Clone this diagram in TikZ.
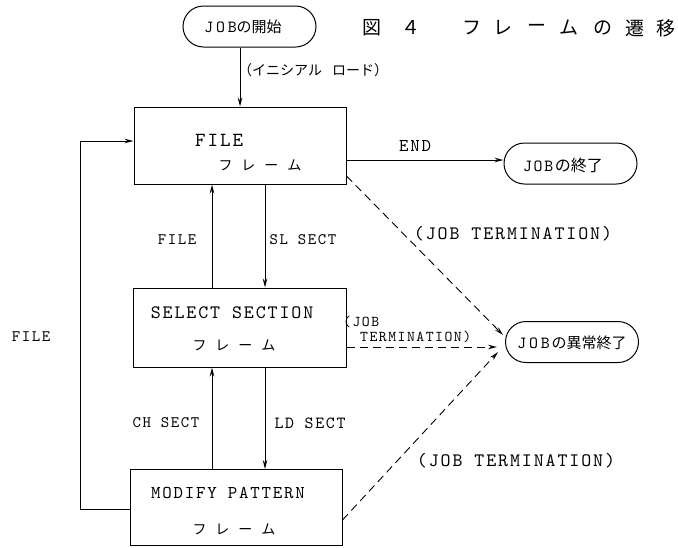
\documentclass[tikz,border=0pt]{standalone}
\usepackage{fontspec}
\newfontfamily\tw[LetterSpace=10]{lmmono10-regular.otf}
\newfontfamily\jp{Noto Sans CJK JP}
\usetikzlibrary{arrows.meta,shapes.misc}
\newcommand\myfs[1]{\fontsize{#1}{#1}\selectfont}
\tikzset{
  framebox/.style={draw, line width=1pt, inner sep=0pt},
  termbox/.style={draw, rounded rectangle, line width=1pt, inner sep=0pt},
  arr/.style={-{Stealth[open,length=9pt,width=4.5pt]}, line width=0.9pt},
  dsh/.style={arr, dash pattern=on 8pt off 5pt},
  lbl/.style={inner sep=0pt, font=\tw\myfs{19}},
  kana/.style={inner sep=0pt, font=\jp\myfs{14}},
}
\begin{document}
\begin{tikzpicture}[x=1pt,y=-1pt]
\useasboundingbox (0,0) rectangle (678,547);

% boxes
\node[termbox, minimum width=133pt, minimum height=41pt] (start) at (249.5,26.5) {};
\node[framebox, minimum width=212pt, minimum height=77pt] (file) at (240,145.5) {};
\node[framebox, minimum width=213pt, minimum height=79pt] (sel) at (239.5,327.5) {};
\node[framebox, minimum width=212pt, minimum height=76pt] (mod) at (236,507.5) {};
\node[termbox, minimum width=133pt, minimum height=41pt] (endb) at (570.5,163.5) {};
\node[termbox, minimum width=133pt, minimum height=41pt] (abort) at (572,342) {};

% texts in terminal boxes
\node[inner sep=0pt] (starttxt) at (243,27) {{\tw\myfs{17}J\,O\,B}{\jp\myfs{15}の開始}};
\node[inner sep=0pt] (endtxt) at (563,165) {{\tw\myfs{17}JOB}\,{\jp\myfs{16}の終了}};
\node[inner sep=0pt] (aborttxt) at (572,343) {{\tw\myfs{17}J\,O\,B}\,{\jp\myfs{15}の異常終了}};

% texts in frames
\node[lbl, font=\tw\myfs{20}] (filet) at (219,140) {FILE};
\node[kana] (filek) at (260,165) {フ\hspace{9pt}レ\hspace{9pt}ー\hspace{9pt}ム};
\node[lbl, font=\tw\myfs{19}] (selt) at (232,313) {SELECT SECTION};
\node[kana] (selk) at (234,345) {フ\hspace{9pt}レ\hspace{9pt}ー\hspace{9pt}ム};
\node[lbl, font=\tw\myfs{18}] (modt) at (228,493) {MODIFY PATTERN};
\node[kana] (modk) at (234,529) {フ\hspace{9pt}レ\hspace{9pt}ー\hspace{9pt}ム};

% title
\foreach \x/\c [count=\i] in {372/図,411/４,472/フ,503/レ,537/ー,569/ム,603/の,635/遷,666/移}
  \node[inner sep=0pt, font=\jp\myfs{19}] (title\i) at (\x,28) {\c};

% coordinates
\coordinate (loopA) at (80,509);
\coordinate (loopB) at (80,141);
\coordinate (tipU) at (503,335);
\coordinate (tipM) at (497,347);
\coordinate (tipL) at (498,352);

% solid connectors
\draw[arr] (start.south -| 240,0) -- (file.north -| 240,0);
\draw[arr] (file.east |- 0,160) -- (endb.west |- 0,160);
\draw[arr] (sel.north -| 212,0) -- (file.south -| 212,0);
\draw[arr] (file.south -| 265,0) -- (sel.north -| 265,0);
\draw[arr] (mod.north -| 212,0) -- (sel.south -| 212,0);
\draw[arr] (sel.south -| 265,0) -- (mod.north -| 265,0);
\draw[arr] (mod.west |- loopA) -- (loopA) -- (loopB) -- (file.west |- loopB);

% dashed connectors
\draw[dsh] (file.east |- 0,176) -- (tipU);
\draw[dsh] (sel.east |- tipM) -- (tipM);
\draw[dsh] (mod.east |- 0,520) -- (tipL);

% labels
\node[kana, anchor=west] (initl) at (238,70) {（イニシアル\hspace{10pt}ロード）};
\node[lbl, font=\tw\myfs{18}] (endl) at (415,146) {END};
\node[lbl] (jt1) at (513,234) {(JOB TERMINATION)};
\node[lbl, font=\tw\myfs{15}, anchor=west] (jt2a) at (343,322) {(JOB};
\node[lbl, font=\tw\myfs{15}, anchor=west] (jt2b) at (360,337) {TERMINATION)};
\node[lbl] (jt3) at (516,461) {(JOB TERMINATION)};
\node[lbl, font=\tw\myfs{16}] (filel) at (177,240) {FILE};
\node[lbl, font=\tw\myfs{16}] (sll) at (303,240) {SL SECT};
\node[lbl, font=\tw\myfs{16}] (chl) at (166,423) {CH SECT};
\node[lbl, font=\tw\myfs{17}] (ldl) at (310,423) {LD SECT};
\node[lbl, font=\tw\myfs{16}] (filel2) at (31,337) {FILE};
\end{tikzpicture}
\end{document}
